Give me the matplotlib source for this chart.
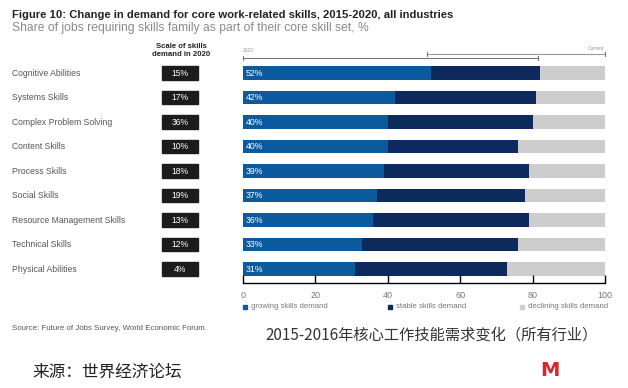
import numpy as np
import matplotlib.pyplot as plt

plt.rcParams['font.family'] = ['Liberation Sans', 'DejaVu Sans']

skills = ['Cognitive Abilities', 'Systems Skills', 'Complex Problem Solving',
          'Content Skills', 'Process Skills', 'Social Skills',
          'Resource Management Skills', 'Technical Skills', 'Physical Abilities']
scale_2020 = [15, 17, 36, 10, 18, 19, 13, 12, 4]
growing = [52, 42, 40, 40, 39, 37, 36, 33, 31]
stable = [30, 39, 40, 36, 40, 41, 43, 43, 42]
declining = [100 - g - s for g, s in zip(growing, stable)]
xticks = [0, 20, 40, 60, 80, 100]
legend_labels = ['growing skills demand', 'stable skills demand', 'declining skills demand']

c_grow = '#0b5a9e'
c_stable = '#0c2b5c'
c_decl = '#cdcdcd'

W, H = 628, 388
fig = plt.figure(figsize=(W / 100, H / 100), dpi=100)


def fx(px):
    return px / W


def fy(py):
    return 1 - py / H


# main bar axes: x 243..605 px, y 62..283 px
ax = fig.add_axes([fx(243), fy(283), fx(605) - fx(243), fy(62) - fy(283)])
y = np.arange(len(skills))
h = 0.55
ax.barh(y, growing, height=h, color=c_grow)
ax.barh(y, stable, left=growing, height=h, color=c_stable)
ax.barh(y, declining, left=np.array(growing) + np.array(stable), height=h, color=c_decl)
for i, g in enumerate(growing):
    ax.text(0.8, i, f'{g}%', color='white', fontsize=6.3, va='center', ha='left')
ax.set_xlim(0, 100)
ax.set_ylim(8.57, -0.45)
ax.set_yticks([])
ax.set_xticks(xticks)
ax.tick_params(axis='x', direction='in', length=6, width=1, colors='black',
               labelcolor='#777777', labelsize=6.5, pad=6)
for s in ['top', 'right', 'left']:
    ax.spines[s].set_visible(False)
ax.spines['bottom'].set_linewidth(1)
ax.margins(0)

# left labels and scale boxes
tax = fig.add_axes([0, fy(283), fx(243), fy(62) - fy(283)])
tax.set_xlim(0, 243)
tax.set_ylim(8.57, -0.45)
tax.axis('off')
for i, (name, v) in enumerate(zip(skills, scale_2020)):
    tax.text(12, i, name, fontsize=6.2, color='#555555', va='center', ha='left')
    tax.add_patch(plt.Rectangle((162, i - 0.27), 36, 0.54, color='#1c1c1c'))
    tax.text(180, i, f'{v}%', fontsize=6.2, color='white', va='center', ha='center')

fig.text(fx(181), fy(51), 'Scale of skills\ndemand in 2020', fontsize=5.6,
         color='#222222', ha='center', va='center', linespacing=1.2, fontweight='bold')

# titles
fig.text(fx(12), fy(15), 'Figure 10: Change in demand for core work-related skills, 2015-2020, all industries',
         fontsize=8.1, color='#222222', ha='left', va='center', fontweight='bold')
fig.text(fx(12), fy(28), 'Share of jobs requiring skills family as part of their core skill set, %',
         fontsize=8.7, color='#8a8a8a', ha='left', va='center')

# bracket lines above bars
fig.add_artist(plt.Line2D([fx(243), fx(538)], [fy(58), fy(58)], color='#777777', lw=0.8))
fig.add_artist(plt.Line2D([fx(427), fx(605)], [fy(53.5), fy(53.5)], color='#999999', lw=0.8))
for px, py in [(243, 58), (538, 58), (427, 53.5), (605, 53.5)]:
    fig.add_artist(plt.Line2D([fx(px), fx(px)], [fy(py - 2), fy(py + 2)], color='#777777', lw=0.8))
fig.text(fx(243), fy(51), '2020', fontsize=3.5, color='#999999', ha='left', va='center')
fig.text(fx(604), fy(48.5), 'Current', fontsize=3.5, color='#999999', ha='right', va='center')

# legend
for (px, label, col) in [(243, legend_labels[0], c_grow), (388, legend_labels[1], c_stable),
                         (520, legend_labels[2], c_decl)]:
    fig.add_artist(plt.Rectangle((fx(px), fy(309)), fx(4), fy(305) - fy(309), color=col))
    fig.text(fx(px + 8), fy(307), label, fontsize=5.6, color='#777777', ha='left', va='center')

fig.text(fx(12), fy(328), 'Source: Future of Jobs Survey, World Economic Forum.',
         fontsize=5.7, color='#555555', ha='left', va='center')

cjk = ['Noto Sans CJK SC', 'DejaVu Sans']
fig.text(fx(265), fy(335), '2015-2016年核心工作技能需求变化（所有行业）',
         fontsize=11, color='#333333', ha='left', va='center', family=cjk)
fig.text(fx(32), fy(372), '来源：世界经济论坛', fontsize=12, color='#222222',
         ha='left', va='center', family=cjk)
fig.text(fx(550), fy(371), 'M', fontsize=14, color='#d8262b', ha='center', va='center',
         fontweight='bold', family='DejaVu Sans')

fig.savefig('out.png', dpi=100)
